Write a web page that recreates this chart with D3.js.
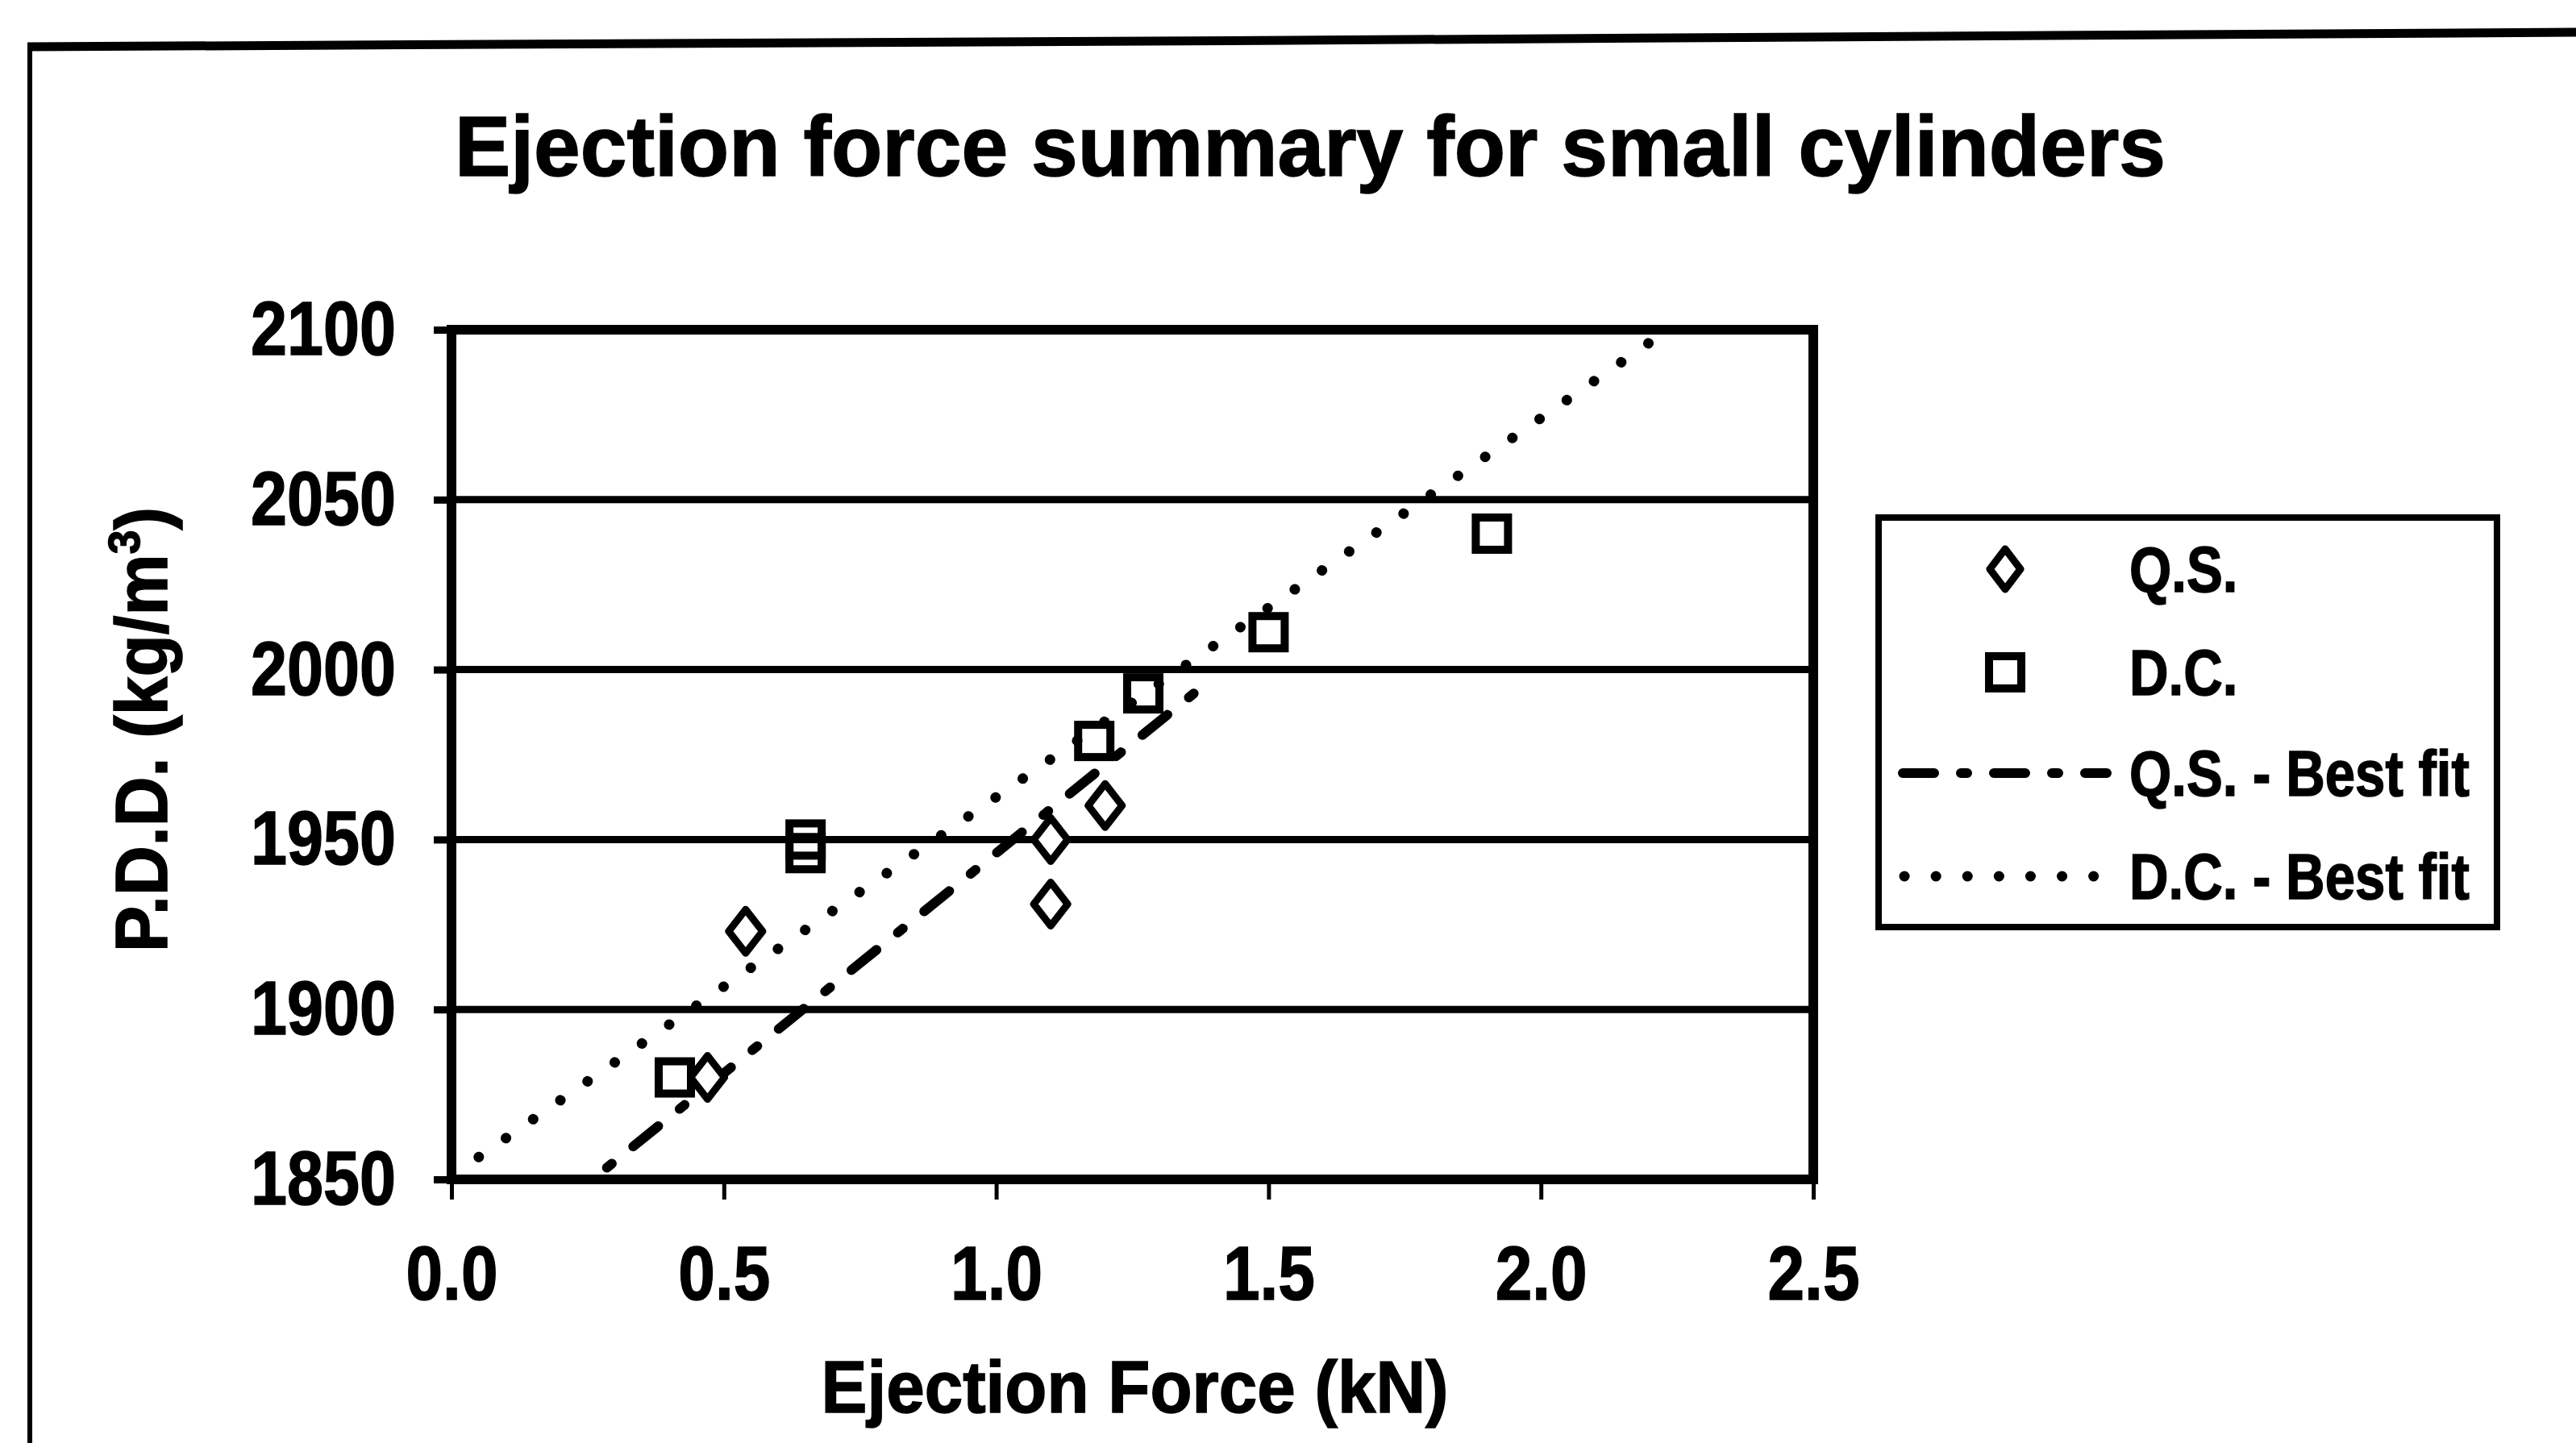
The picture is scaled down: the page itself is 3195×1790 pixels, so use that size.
<!DOCTYPE html>
<html>
<head>
<meta charset="utf-8">
<script src="https://cdn.jsdelivr.net/npm/d3@7"></script>
<style>
  html, body { margin: 0; padding: 0; background: #fff; }
  svg { display: block; }
  text { font-family: "Liberation Sans", Arial, sans-serif; font-weight: bold; fill: #000; stroke: #000; stroke-width: 1.5px; }
</style>
</head>
<body>
<svg id="chart" width="3195" height="1790"></svg>
<script>
// ---- data ----
const xTicks = [0, 0.5, 1.0, 1.5, 2.0, 2.5];
const yTicks = [1850, 1900, 1950, 2000, 2050, 2100];

// Quasi-static (Q.S.) specimens: ejection force (kN) vs P.D.D. (kg/m3)
const qsForce   = [0.47, 0.54, 1.10, 1.10, 1.20];
const qsDensity = [1880, 1923, 1931, 1950, 1960];

// Dynamic compaction (D.C.) specimens
const dcForce   = [0.41, 0.65, 0.65, 1.18, 1.27, 1.50, 1.91];
const dcDensity = [1880, 1950, 1946, 1979, 1993, 2011, 2040];

// Linear best-fit lines: density = intercept + slope * force, over the drawn force range
const qsFit = { intercept: 1816.5, slope: 129.5, from: 0.2, to: 1.37 };
const dcFit = { intercept: 1851.0, slope: 111.5, from: 0.05, to: 2.3 };

const legendLabels = ["Q.S.", "D.C.", "Q.S. - Best fit", "D.C. - Best fit"];

// ---- layout ----
const svg = d3.select("#chart");
const plot = { left: 560, right: 2249, top: 409, bottom: 1463 };

const x = d3.scaleLinear().domain([0, 2.5]).range([plot.left, plot.right]);
const y = d3.scaleLinear().domain([1850, 2100]).range([plot.bottom, plot.top]);

svg.append("rect").attr("width", 3195).attr("height", 1790).attr("fill", "#fff");

// outer chart frame (left and top edges)
svg.append("path")
  .attr("d", "M37,1790 L37,58")
  .attr("fill", "none").attr("stroke", "#000").attr("stroke-width", 6);
svg.append("path")
  .attr("d", "M34,58 L1600,50 L3195,40")
  .attr("fill", "none").attr("stroke", "#000").attr("stroke-width", 11);

// title
svg.append("text")
  .attr("class", "fit")
  .attr("data-w", 2122)
  .attr("x", 564).attr("y", 218)
  .attr("font-size", 106)
  .text("Ejection force summary for small cylinders");

// clip region for trend lines
svg.append("defs").append("clipPath").attr("id", "plotClip")
  .append("rect")
  .attr("x", plot.left).attr("y", plot.top)
  .attr("width", plot.right - plot.left).attr("height", plot.bottom - plot.top);

// horizontal gridlines
svg.append("g").selectAll("line")
  .data(yTicks.filter(v => v > 1850 && v < 2100))
  .join("line")
  .attr("x1", x(0)).attr("x2", x(2.5))
  .attr("y1", d => y(d)).attr("y2", d => y(d))
  .attr("stroke", "#000").attr("stroke-width", 9);

// y axis
const yAxis = svg.append("g")
  .attr("transform", `translate(${plot.left},0)`)
  .call(d3.axisLeft(y).tickValues(yTicks).tickSize(22).tickPadding(47).tickFormat(d3.format("d")));
yAxis.select(".domain").remove();
yAxis.selectAll(".tick line").attr("stroke", "#000").attr("stroke-width", 9);
yAxis.selectAll(".tick text")
  .attr("font-size", 95).attr("font-family", null)
  .attr("class", "fit").attr("data-w", 180);

// x axis
const xAxis = svg.append("g")
  .attr("transform", `translate(0,${plot.bottom})`)
  .call(d3.axisBottom(x).tickValues(xTicks).tickSize(25).tickPadding(57).tickFormat(d3.format(".1f")));
xAxis.select(".domain").remove();
xAxis.selectAll(".tick line").attr("stroke", "#000").attr("stroke-width", 5);
xAxis.selectAll(".tick text")
  .attr("font-size", 95).attr("font-family", null)
  .attr("class", "fit").attr("data-w", 114);

// plot-area border
svg.append("rect")
  .attr("x", plot.left).attr("y", plot.top)
  .attr("width", plot.right - plot.left).attr("height", plot.bottom - plot.top)
  .attr("fill", "none").attr("stroke", "#000").attr("stroke-width", 12);

// axis titles
svg.append("text")
  .attr("class", "fit").attr("data-w", 778)
  .attr("x", (plot.left + plot.right) / 2 + 3).attr("y", 1752)
  .attr("text-anchor", "middle").attr("font-size", 90)
  .text("Ejection Force (kN)");

const yTitle = svg.append("text")
  .attr("class", "fit").attr("data-w", 552)
  .attr("transform", "translate(207,905) rotate(-90)")
  .attr("text-anchor", "middle").attr("font-size", 90);
yTitle.append("tspan").text("P.D.D. (kg/m");
yTitle.append("tspan").attr("font-size", 56).attr("dy", -34).text("3");
yTitle.append("tspan").attr("dy", 34).text(")");

// trend lines
const qsDash = "40 34 8 34";
const dcDot = "0.1 41";
const fitLine = f => d3.line()(
  [f.from, f.to].map(v => [x(v), y(f.intercept + f.slope * v)])
);
const fits = svg.append("g").attr("clip-path", "url(#plotClip)");
fits.append("path").attr("d", fitLine(dcFit))
  .attr("fill", "none").attr("stroke", "#000").attr("stroke-width", 13)
  .attr("stroke-linecap", "round").attr("stroke-dasharray", dcDot);
fits.append("path").attr("d", fitLine(qsFit))
  .attr("fill", "none").attr("stroke", "#000").attr("stroke-width", 12)
  .attr("stroke-linecap", "round").attr("stroke-dasharray", qsDash);

// marker shapes
const diamondPath = (w, h) => `M0,${-h}L${w},0L0,${h}L${-w},0Z`;
const SQ = 40;

svg.append("g").selectAll("path")
  .data(qsForce.map((f, i) => [f, qsDensity[i]]))
  .join("path")
  .attr("transform", d => `translate(${x(d[0])},${y(d[1])})`)
  .attr("d", diamondPath(21, 27))
  .attr("fill", "#fff").attr("stroke", "#000").attr("stroke-width", 9)
  .attr("stroke-linejoin", "round");

svg.append("g").selectAll("rect")
  .data(dcForce.map((f, i) => [f, dcDensity[i]]))
  .join("rect")
  .attr("x", d => x(d[0]) - SQ / 2).attr("y", d => y(d[1]) - SQ / 2)
  .attr("width", SQ).attr("height", SQ)
  .attr("fill", "none").attr("stroke", "#000").attr("stroke-width", 10);

// legend
const lg = svg.append("g");
lg.append("rect")
  .attr("x", 2330).attr("y", 642).attr("width", 767).attr("height", 508)
  .attr("fill", "#fff").attr("stroke", "#000").attr("stroke-width", 8);
const rowY = [706, 834, 959, 1087];
lg.append("path")
  .attr("transform", `translate(2487,${rowY[0]})`)
  .attr("d", diamondPath(19, 25))
  .attr("fill", "#fff").attr("stroke", "#000").attr("stroke-width", 9)
  .attr("stroke-linejoin", "round");
lg.append("rect")
  .attr("x", 2487 - SQ / 2).attr("y", rowY[1] - SQ / 2).attr("width", SQ).attr("height", SQ)
  .attr("fill", "none").attr("stroke", "#000").attr("stroke-width", 10);
lg.append("line")
  .attr("x1", 2360).attr("x2", 2613).attr("y1", rowY[2]).attr("y2", rowY[2])
  .attr("stroke", "#000").attr("stroke-width", 12)
  .attr("stroke-linecap", "round").attr("stroke-dasharray", "39 33 8 33");
lg.append("line")
  .attr("x1", 2362).attr("x2", 2602).attr("y1", rowY[3]).attr("y2", rowY[3])
  .attr("stroke", "#000").attr("stroke-width", 13)
  .attr("stroke-linecap", "round").attr("stroke-dasharray", "0.1 39");
lg.selectAll("text.lab")
  .data(legendLabels)
  .join("text")
  .attr("class", "fit lab").attr("data-k", 0.84)
  .attr("x", 2641).attr("y", (d, i) => rowY[i] + 28)
  .attr("font-size", 80)
  .text(d => d);

// condense text glyphs horizontally to the narrow bold face
svg.selectAll("text.fit").each(function () {
  const el = d3.select(this);
  const w = this.getComputedTextLength();
  const target = el.attr("data-w") ? +el.attr("data-w") : w * (+el.attr("data-k") || 1);
  el.attr("textLength", target).attr("lengthAdjust", "spacingAndGlyphs");
});
</script>
</body>
</html>
